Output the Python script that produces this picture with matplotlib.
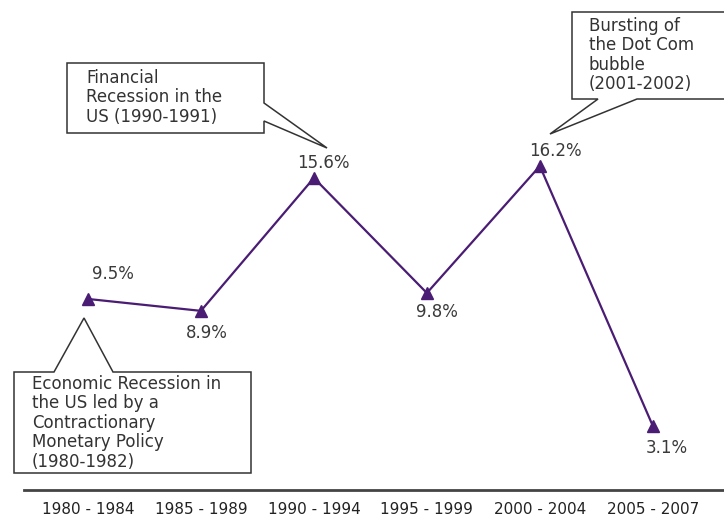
import matplotlib
matplotlib.use("Agg")
import matplotlib.pyplot as plt
from matplotlib.patches import Polygon
from matplotlib.transforms import Affine2D

plt.rcParams['font.family'] = ['DejaVu Sans']

# Data
periods = ["1980 - 1984", "1985 - 1989", "1990 - 1994",
           "1995 - 1999", "2000 - 2004", "2005 - 2007"]
values = [9.5, 8.9, 15.6, 9.8, 16.2, 3.1]
value_labels = ["9.5%", "8.9%", "15.6%", "9.8%", "16.2%", "3.1%"]

# Label offsets (points) relative to each marker
label_offsets = [(18, 18), (4, -16), (7, 11), (7, -14), (11, 11), (10, -16)]

W, H = 724, 517
fig = plt.figure(figsize=(W / 100, H / 100), dpi=100)
fig.patch.set_facecolor("white")

ax = fig.add_axes([24 / W, (H - 490) / H, 700 / W, 490 / H])
x = list(range(len(periods)))
line_color = "#4a1c74"
ax.plot(x, values, color=line_color, lw=1.6, marker="^", ms=8,
        markerfacecolor=line_color, markeredgecolor=line_color, zorder=3)

for xi, v, lab, (dx, dy) in zip(x, values, value_labels, label_offsets):
    ax.annotate(lab, (xi, v), xytext=(dx, dy), textcoords="offset points",
                ha="center", va="center", fontsize=12, color="#3a3a3a")

ax.set_xlim(-0.566, 5.63)
ax.set_ylim(-0.13, 24.57)
ax.set_xticks(x)
ax.set_xticklabels(periods, fontsize=11, color="#222222")
ax.tick_params(axis="x", length=0, pad=9)
ax.set_yticks([])
for s in ["top", "right", "left"]:
    ax.spines[s].set_visible(False)
ax.spines["bottom"].set_color("#444444")
ax.spines["bottom"].set_linewidth(2)
ax.patch.set_alpha(0)

# Pixel transform: origin at top-left of figure
px = Affine2D().scale(1 / W, -1 / H).translate(0, 1) + fig.transFigure

edge = "#333333"
txt_color = "#333333"

callouts = [
    # (outline polygon, text x, first line top y, text)
    ([(14, 372), (54, 372), (84, 318), (113, 372), (251, 372),
      (251, 473), (14, 473)],
     32, 375,
     "Economic Recession in\nthe US led by a\nContractionary\nMonetary Policy\n(1980-1982)"),
    ([(67, 63), (264, 63), (264, 103), (327, 148), (264, 121),
      (264, 133), (67, 133)],
     86, 69,
     "Financial\nRecession in the\nUS (1990-1991)"),
    ([(572, 12), (730, 12), (730, 99), (637, 99), (550, 134),
      (598, 99), (572, 99)],
     589, 17,
     "Bursting of\nthe Dot Com\nbubble\n(2001-2002)"),
]

for poly, tx, ty, text in callouts:
    p = Polygon(poly, closed=True, transform=px, facecolor="white",
                edgecolor=edge, lw=1.1, zorder=5)
    fig.add_artist(p)
    fig.text(tx, ty, text, transform=px, ha="left", va="top",
             fontsize=12, color=txt_color, linespacing=1.1, zorder=6)

fig.savefig("out.png", dpi=100, facecolor="white")
